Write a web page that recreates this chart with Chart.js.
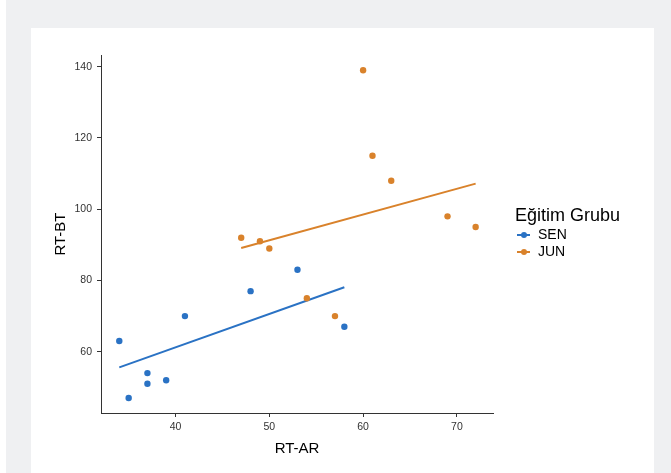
<!DOCTYPE html>
<html>
<head>
<meta charset="utf-8">
<script src="https://cdn.jsdelivr.net/npm/chart.js@4.4.1/dist/chart.umd.min.js"></script>
<style>
  body { margin: 0; background: #fff; overflow: hidden; font-family: "Liberation Sans", Arial, sans-serif; }
  #bg { position: absolute; left: 6px; top: 0; width: 665px; height: 473px; background: #eff0f2; }
  #panel { position: absolute; left: 31px; top: 28px; width: 623px; height: 445px; background: #fff; }
  #c { position: absolute; left: 0; top: 0; }
  #legend { position: absolute; left: 515px; top: 204px; color: #000; }
  #legend .title { font-size: 18px; line-height: 22px; }
  #legend .item { position: relative; font-size: 14px; line-height: 17px; padding-left: 23px; }
  #legend .mark { position: absolute; left: 2px; top: 7.5px; width: 13px; height: 2px; }
  #legend .dot { position: absolute; left: 4px; top: -2px; width: 6px; height: 6px; border-radius: 3px; }
</style>
</head>
<body>
<div id="bg"></div>
<div id="panel"></div>
<canvas id="c" width="671" height="473"></canvas>
<div id="legend"></div>
<script>
// SEN group
const senX = [34, 35, 37, 37, 39, 41, 48, 53, 58]
const senY = [63, 47, 54, 51, 52, 70, 77, 83, 67]
// JUN group
const junX = [47, 49, 50, 54, 57, 60, 61, 63, 69, 72]
const junY = [92, 91, 89, 75, 70, 139, 115, 108, 98, 95]
// fitted lines
const senFitX = [34, 58]
const senFitY = [55.6, 78.1]
const junFitX = [47, 72]
const junFitY = [89.1, 107.2]

const groups = ["SEN", "JUN"]
const groupColors = ["#2a72c4", "#d9822b"]
const xTicks = [40, 50, 60, 70]
const yTicks = [60, 80, 100, 120, 140]
const xRange = [32.05, 73.85]
const yRange = [42.8, 143.3]

const FONT = "'Liberation Sans', Arial, sans-serif"

const pts = (xs, ys) => xs.map((x, i) => ({ x: x, y: ys[i] }))

function pointSet (label, xs, ys, color) {
    return {
        label: label,
        data: pts(xs, ys),
        showLine: false,
        pointRadius: 3.2,
        pointBackgroundColor: color,
        pointBorderWidth: 0,
        borderColor: color,
    }
}

function lineSet (label, xs, ys, color) {
    return {
        label: label,
        data: pts(xs, ys),
        showLine: true,
        pointRadius: 0,
        borderColor: color,
        borderWidth: 2,
        fill: false,
    }
}

const axisStyle = {
    grid: { display: true, drawOnChartArea: false, drawTicks: true, tickLength: 4, color: "#333", lineWidth: 1 },
    border: { display: true, color: "#333", width: 1 },
}

const config = {
    type: "scatter",
    data: {
        datasets: [
            pointSet(groups[0], senX, senY, groupColors[0]),
            pointSet(groups[1], junX, junY, groupColors[1]),
            lineSet(groups[0] + " fit", senFitX, senFitY, groupColors[0]),
            lineSet(groups[1] + " fit", junFitX, junFitY, groupColors[1]),
        ]
    },
    options: {
        responsive: false,
        animation: false,
        devicePixelRatio: 1,
        layout: { padding: { left: 0, top: 55, right: 178, bottom: 0 } },
        plugins: { legend: { display: false }, tooltip: { enabled: false } },
        scales: {
            x: {
                type: "linear",
                min: xRange[0],
                max: xRange[1],
                ...axisStyle,
                afterFit: s => { s.height = 60 },
                afterBuildTicks: s => { s.ticks = xTicks.map(v => ({ value: v })) },
                ticks: { font: { family: FONT, size: 10.5 }, color: "#333", padding: 4, maxRotation: 0 },
                title: { display: true, text: "RT-AR", color: "#000", font: { family: FONT, size: 15 }, padding: { top: 0, bottom: 15 } },
            },
            y: {
                type: "linear",
                min: yRange[0],
                max: yRange[1],
                ...axisStyle,
                afterFit: s => { s.width = 101 },
                afterBuildTicks: s => { s.ticks = yTicks.map(v => ({ value: v })) },
                ticks: { font: { family: FONT, size: 10.5 }, color: "#333", padding: 5 },
                title: { display: true, text: "RT-BT", color: "#000", font: { family: FONT, size: 15 }, padding: { top: 52, bottom: 0 } },
            }
        }
    }
}

new Chart(document.getElementById("c").getContext("2d"), config)

// legend
const legend = document.getElementById("legend")
let html = '<div class="title">Eğitim Grubu</div>'
groups.forEach((g, i) => {
    html += '<div class="item"><span class="mark" style="background:' + groupColors[i] + '">' +
        '<span class="dot" style="background:' + groupColors[i] + '"></span></span>' + g + '</div>'
})
legend.innerHTML = html
</script>
</body>
</html>
